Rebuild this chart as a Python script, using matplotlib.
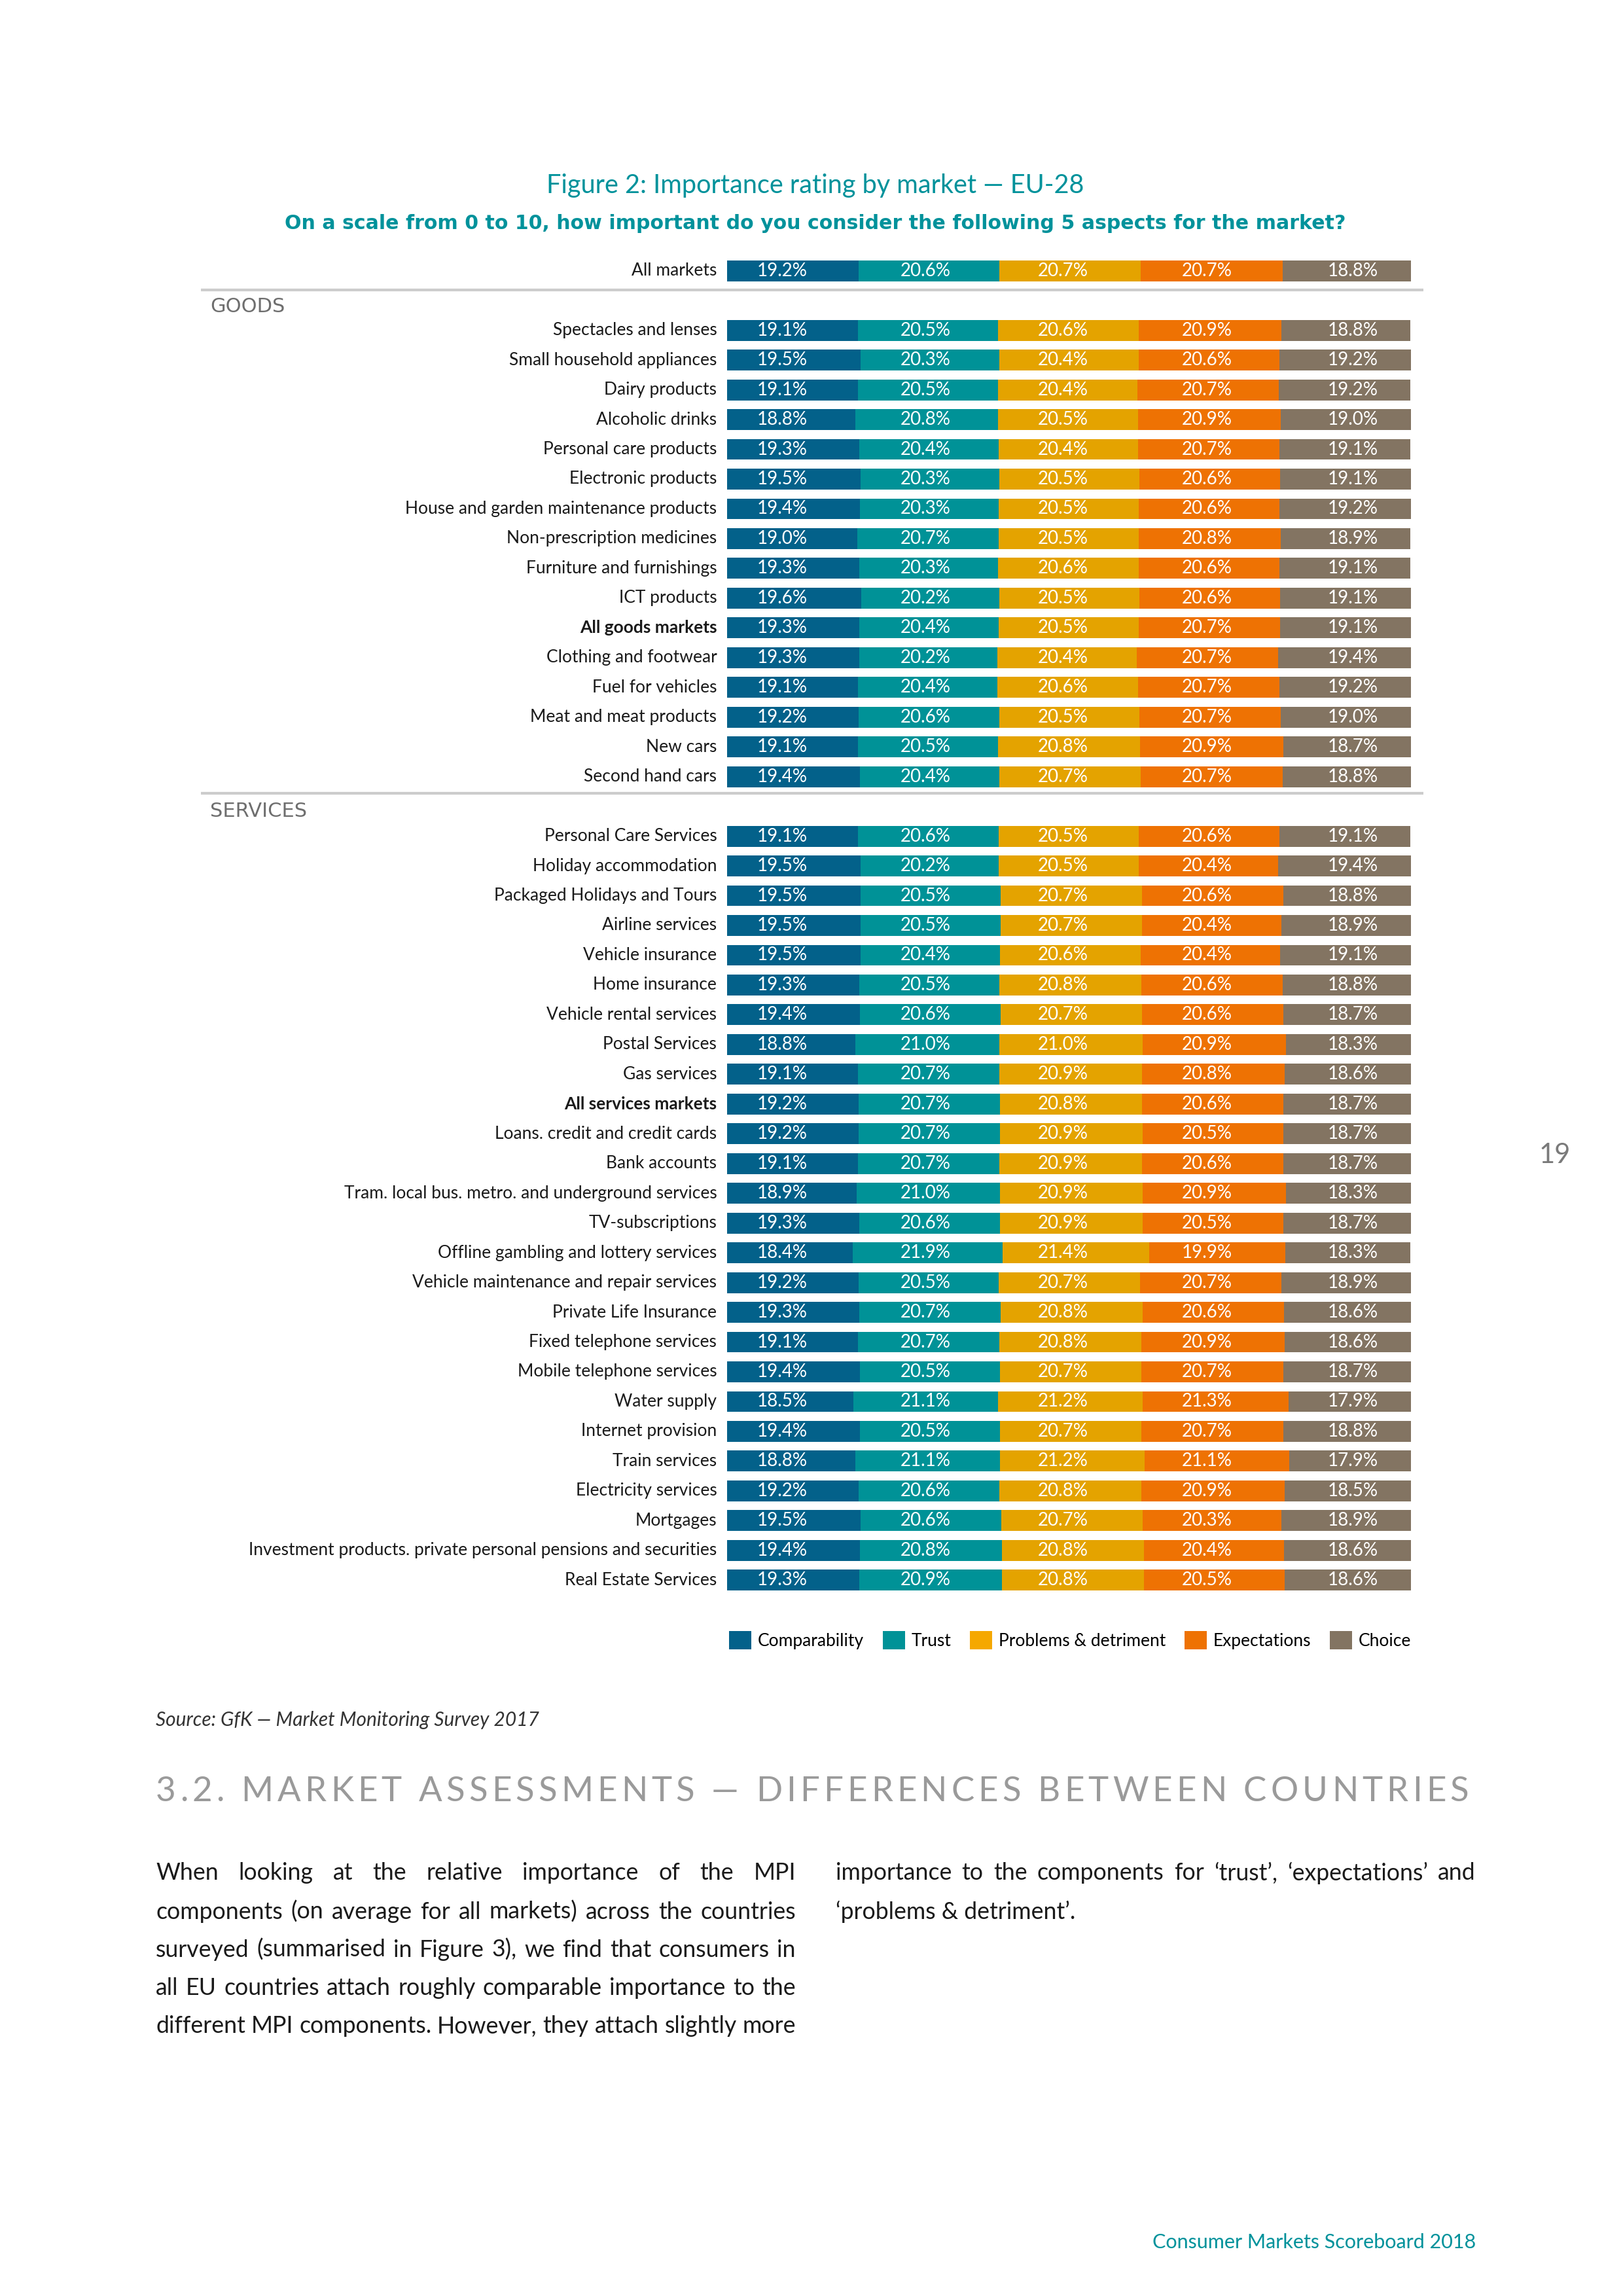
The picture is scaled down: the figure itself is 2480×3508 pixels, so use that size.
import numpy as np
import matplotlib
matplotlib.use('Agg')
import matplotlib.pyplot as plt
from matplotlib.patches import Patch
from matplotlib import transforms

# ---- data ----
markets = ['All markets',
           # goods
           'Spectacles and lenses', 'Small household appliances', 'Dairy products',
           'Alcoholic drinks', 'Personal care products', 'Electronic products',
           'House and garden maintenance products', 'Non-prescription medicines',
           'Furniture and furnishings', 'ICT products', 'All goods markets',
           'Clothing and footwear', 'Fuel for vehicles', 'Meat and meat products',
           'New cars', 'Second hand cars',
           # services
           'Personal Care Services', 'Holiday accommodation', 'Packaged Holidays and Tours',
           'Airline services', 'Vehicle insurance', 'Home insurance',
           'Vehicle rental services', 'Postal Services', 'Gas services',
           'All services markets', 'Loans. credit and credit cards', 'Bank accounts',
           'Tram. local bus. metro. and underground services', 'TV-subscriptions',
           'Offline gambling and lottery services', 'Vehicle maintenance and repair services',
           'Private Life Insurance', 'Fixed telephone services', 'Mobile telephone services',
           'Water supply', 'Internet provision', 'Train services', 'Electricity services',
           'Mortgages', 'Investment products. private personal pensions and securities',
           'Real Estate Services']

comparability = [19.2,
                 19.1, 19.5, 19.1, 18.8, 19.3, 19.5, 19.4, 19.0, 19.3, 19.6, 19.3, 19.3, 19.1, 19.2, 19.1, 19.4,
                 19.1, 19.5, 19.5, 19.5, 19.5, 19.3, 19.4, 18.8, 19.1, 19.2, 19.2, 19.1, 18.9, 19.3, 18.4,
                 19.2, 19.3, 19.1, 19.4, 18.5, 19.4, 18.8, 19.2, 19.5, 19.4, 19.3]
trust = [20.6,
         20.5, 20.3, 20.5, 20.8, 20.4, 20.3, 20.3, 20.7, 20.3, 20.2, 20.4, 20.2, 20.4, 20.6, 20.5, 20.4,
         20.6, 20.2, 20.5, 20.5, 20.4, 20.5, 20.6, 21.0, 20.7, 20.7, 20.7, 20.7, 21.0, 20.6, 21.9,
         20.5, 20.7, 20.7, 20.5, 21.1, 20.5, 21.1, 20.6, 20.6, 20.8, 20.9]
problems = [20.7,
            20.6, 20.4, 20.4, 20.5, 20.4, 20.5, 20.5, 20.5, 20.6, 20.5, 20.5, 20.4, 20.6, 20.5, 20.8, 20.7,
            20.5, 20.5, 20.7, 20.7, 20.6, 20.8, 20.7, 21.0, 20.9, 20.8, 20.9, 20.9, 20.9, 20.9, 21.4,
            20.7, 20.8, 20.8, 20.7, 21.2, 20.7, 21.2, 20.8, 20.7, 20.8, 20.8]
expectations = [20.7,
                20.9, 20.6, 20.7, 20.9, 20.7, 20.6, 20.6, 20.8, 20.6, 20.6, 20.7, 20.7, 20.7, 20.7, 20.9, 20.7,
                20.6, 20.4, 20.6, 20.4, 20.4, 20.6, 20.6, 20.9, 20.8, 20.6, 20.5, 20.6, 20.9, 20.5, 19.9,
                20.7, 20.6, 20.9, 20.7, 21.3, 20.7, 21.1, 20.9, 20.3, 20.4, 20.5]
choice = [18.8,
          18.8, 19.2, 19.2, 19.0, 19.1, 19.1, 19.2, 18.9, 19.1, 19.1, 19.1, 19.4, 19.2, 19.0, 18.7, 18.8,
          19.1, 19.4, 18.8, 18.9, 19.1, 18.8, 18.7, 18.3, 18.6, 18.7, 18.7, 18.7, 18.3, 18.7, 18.3,
          18.9, 18.6, 18.6, 18.7, 17.9, 18.8, 17.9, 18.5, 18.9, 18.6, 18.6]

components = ['Comparability', 'Trust', 'Problems & detriment', 'Expectations', 'Choice']
series = [comparability, trust, problems, expectations, choice]
colors = ['#03618a', '#009297', '#e4a300', '#ee7203', '#837462']
legend_colors = ['#03618a', '#009297', '#f5a800', '#ee7203', '#837462']
bold_rows = ['All goods markets', 'All services markets']

# ---- layout ----
W, H = 2480, 3508
SANS = ['Lato', 'DejaVu Sans']
TEAL = '#00929b'

fig = plt.figure(figsize=(W / 100, H / 100), dpi=100)
fig.patch.set_facecolor('white')

def fx(px):
    return px / W

def fy(py):
    return 1 - py / H

ax = fig.add_axes([fx(1111), fy(2437), (2156 - 1111) / W, (2437 - 391) / H])
ax.set_xlim(0, 100)
ax.set_ylim(44.5, -0.5)
ax.axis('off')

# row positions: all markets, gap, goods, gap, services
ypos = np.array([0] + list(range(2, 18)) + list(range(19, 45)))

vals = np.array(series)
left = np.zeros(len(markets))
for v, c in zip(vals, colors):
    ax.barh(ypos, v, left=left, height=0.70, color=c, edgecolor='none')
    left += v

label_x = [8.1, 29.0, 49.1, 70.2, 91.5]
for i, y in enumerate(ypos):
    for k in range(5):
        ax.text(label_x[k], y, '%.1f%%' % vals[k][i], ha='center', va='center',
                color='white', fontsize=20, family=SANS)
    ax.text(-1.5, y, markets[i], ha='right', va='center', fontsize=19, family=SANS,
            color='#1a1a1a', fontweight='bold' if markets[i] in bold_rows else 'normal',
            clip_on=False)

blend = transforms.blended_transform_factory(fig.transFigure, ax.transData)
for yl in [0.64, 17.56]:
    ax.plot([fx(307), fx(2175)], [yl, yl], transform=blend, color='#cccccc', lw=3,
            clip_on=False, solid_capstyle='butt')
ax.text(fx(321), 1.2, 'GOODS', transform=blend, ha='left', va='center', fontsize=22,
        family='DejaVu Sans', color='#6e6e6e')
ax.text(fx(321), 18.17, 'SERVICES', transform=blend, ha='left', va='center', fontsize=22,
        family='DejaVu Sans', color='#6e6e6e')

# titles
fig.text(fx(1246), fy(283), 'Figure 2: Importance rating by market \u2014 EU-28', ha='center',
         va='center', fontsize=28.5, family=SANS, color=TEAL)
fig.text(fx(1246), fy(342), 'On a scale from 0 to 10, how important do you consider the following 5 aspects for the market?',
         ha='center', va='center', fontsize=21.6, fontweight='bold', family='DejaVu Sans', color=TEAL)

# legend
handles = [Patch(facecolor=c, edgecolor='none') for c in legend_colors]
fig.legend(handles, components, loc='center right', bbox_to_anchor=(fx(2156), fy(2506)),
           ncol=5, frameon=False, prop={'family': SANS, 'size': 19},
           handlelength=1.3, handleheight=1.3, handletextpad=0.35, columnspacing=1.1,
           borderpad=0, borderaxespad=0)

# page text
fig.text(fx(238), fy(2628), 'Source: GfK \u2014 Market Monitoring Survey 2017', ha='left',
         va='center', fontsize=21.5, style='italic', family=SANS, color='#333333')
fig.text(fx(2376), fy(1765), '19', ha='center', va='center', fontsize=30, family=SANS,
         color='#7a7a7a')
fig.text(fx(2255), fy(3426), 'Consumer Markets Scoreboard 2018', ha='right', va='center',
         fontsize=22, family=SANS, color=TEAL)

renderer = fig.canvas.get_renderer()

def text_width(s, **kw):
    t = fig.text(0, 0, s + '|', **kw)
    bar = fig.text(0, 0, '|', **kw)
    w = t.get_window_extent(renderer).width - bar.get_window_extent(renderer).width
    t.remove()
    bar.remove()
    return w

def justify(line, x0, x1, ypx, **kw):
    words = line.split(' ')
    widths = [text_width(w, **kw) for w in words]
    gap = (x1 - x0 - sum(widths)) / max(len(words) - 1, 1)
    x = x0
    for w, wd in zip(words, widths):
        fig.text(fx(x), fy(ypx), w, va='center', ha='left', **kw)
        x += wd + gap

def tracked(line, x0, x1, ypx, **kw):
    # spread characters evenly (letter spacing) between x0 and x1
    total = text_width(line, **kw)
    extra = (x1 - x0 - total) / (len(line) - 1)
    for i, ch in enumerate(line):
        if ch == ' ':
            continue
        x = x0 + text_width(line[:i], **kw) + i * extra
        fig.text(fx(x), fy(ypx), ch, va='center', ha='left', **kw)

tracked('3.2. MARKET ASSESSMENTS \u2014 DIFFERENCES BETWEEN COUNTRIES', 238, 2244, 2738,
        fontsize=38, family=SANS, color='#9a9a9a')

body_left = ['When looking at the relative importance of the MPI',
             'components (on average for all markets) across the countries',
             'surveyed (summarised in Figure 3), we find that consumers in',
             'all EU countries attach roughly comparable importance to the',
             'different MPI components. However, they attach slightly more']
body_right = 'importance to the components for \u2018trust\u2019, \u2018expectations\u2019 and'
line_y = [2862, 2921, 2979, 3037, 3096]
col_w = 1216 - 238

# largest size (up to 26pt) at which every justified line fits its column
body_size = 26.0
for ln in body_left + [body_right]:
    w = text_width(ln, fontsize=body_size, family=SANS)
    if w > col_w:
        body_size = body_size * col_w / w
body_kw = dict(fontsize=body_size, family=SANS, color='#1a1a1a')

for ln, yy in zip(body_left, line_y):
    justify(ln, 238, 1216, yy, **body_kw)
justify(body_right, 1277, 2255, line_y[0], **body_kw)
fig.text(fx(1277), fy(line_y[1]), '\u2018problems & detriment\u2019.', ha='left', va='center',
         **body_kw)

fig.savefig('out.png', dpi=100, facecolor='white')
